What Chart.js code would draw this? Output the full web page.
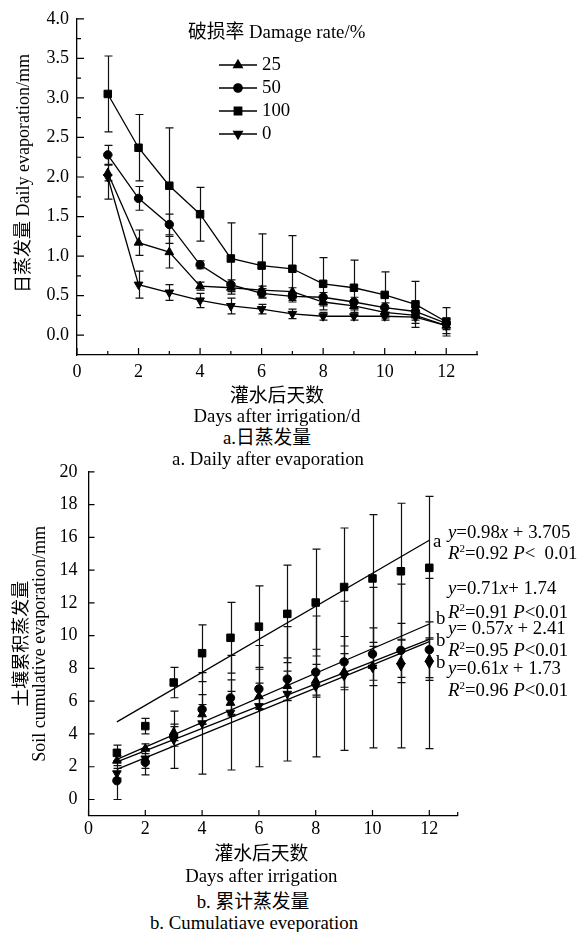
<!DOCTYPE html>
<html><head><meta charset="utf-8">
<script src="https://cdn.jsdelivr.net/npm/chart.js@4/dist/chart.umd.min.js"></script>
<style>
html,body{margin:0;padding:0;background:#fff;width:587px;height:932px;overflow:hidden;position:relative;}
canvas{position:absolute;left:0;}
#c1{top:0;}
#c2{top:450px;}
.t{position:absolute;font-family:'Liberation Serif','Noto Sans CJK SC',serif;font-size:18.8px;line-height:20px;color:#000;white-space:pre;}
.cap{text-align:center;width:400px;}
.t sup{font-size:11px;line-height:0;vertical-align:7px;}
</style></head><body>
<canvas id="c1" width="587" height="427"></canvas>
<canvas id="c2" width="587" height="438"></canvas>

<div class="t cap" style="left:67px;top:428px">a.日蒸发量</div>
<div class="t cap" style="left:68px;top:449px">a. Daily after evaporation</div>
<div class="t cap" style="left:53px;top:892px">b. 累计蒸发量</div>
<div class="t cap" style="left:54px;top:913px">b. Cumulatiave eveporation</div>

<div class="t" style="left:433px;top:531px">a</div>
<div class="t" style="left:448px;top:522px"><i>y</i>=0.98<i>x</i> + 3.705</div>
<div class="t" style="left:448px;top:543px"><i>R</i><sup>2</sup>=0.92 <i>P</i>&lt;  0.01</div>
<div class="t" style="left:448px;top:578px"><i>y</i>=0.71<i>x</i>+ 1.74</div>
<div class="t" style="left:448px;top:602px"><i>R</i><sup>2</sup>=0.91 <i>P</i>&lt;0.01</div>
<div class="t" style="left:436px;top:608px">b</div>
<div class="t" style="left:448px;top:618px"><i>y</i>= 0.57<i>x</i> + 2.41</div>
<div class="t" style="left:436px;top:630px">b</div>
<div class="t" style="left:448px;top:640px"><i>R</i><sup>2</sup>=0.95 <i>P</i>&lt;0.01</div>
<div class="t" style="left:436px;top:652px">b</div>
<div class="t" style="left:448px;top:658px"><i>y</i>=0.61<i>x</i> + 1.73</div>
<div class="t" style="left:448px;top:680px"><i>R</i><sup>2</sup>=0.96 <i>P</i>&lt;0.01</div>

<script>
const FONT = "'Liberation Serif','Noto Sans CJK SC',serif";

// ---------- data ----------
const days = [1, 2, 3, 4, 5, 6, 7, 8, 9, 10, 11, 12];
const seriesLabels = ['25', '50', '100', '0'];

// a. daily evaporation (mm)
const daily25  = [2.05, 1.17, 1.05, 0.62, 0.60, 0.57, 0.55, 0.42, 0.37, 0.29, 0.25, 0.12];
const daily50  = [2.28, 1.73, 1.40, 0.89, 0.64, 0.53, 0.49, 0.48, 0.42, 0.35, 0.30, 0.15];
const daily100 = [3.05, 2.37, 1.89, 1.53, 0.97, 0.88, 0.84, 0.65, 0.60, 0.51, 0.39, 0.17];
const daily0   = [2.00, 0.64, 0.54, 0.44, 0.37, 0.33, 0.27, 0.24, 0.24, 0.24, 0.23, 0.12];
const dailyErr25  = [0.10, 0.16, 0.20, 0.05, 0.05, 0.05, 0.05, 0.05, 0.05, 0.05, 0.06, 0.05];
const dailyErr50  = [0.12, 0.15, 0.13, 0.05, 0.06, 0.06, 0.05, 0.06, 0.06, 0.06, 0.06, 0.05];
const dailyErr100 = [0.48, 0.42, 0.73, 0.34, 0.45, 0.40, 0.42, 0.33, 0.35, 0.29, 0.29, 0.18];
const dailyErr0   = [0.28, 0.17, 0.10, 0.09, 0.10, 0.06, 0.06, 0.05, 0.05, 0.05, 0.08, 0.10];

// b. cumulative evaporation (mm)
const cum25  = [2.37, 3.10, 4.10, 5.20, 5.90, 6.30, 6.93, 7.25, 7.80, 8.15, 8.43, 8.57];
const cum50  = [1.15, 2.27, 3.85, 5.50, 6.20, 6.75, 7.35, 7.77, 8.40, 8.88, 9.10, 9.14];
const cum100 = [2.85, 4.48, 7.14, 8.93, 9.87, 10.55, 11.33, 12.02, 12.97, 13.49, 13.93, 14.14];
const cum0   = [1.60, 2.50, 3.65, 4.65, 5.30, 5.70, 6.45, 6.90, 7.55, 8.05, 8.15, 8.30];
const cumErr25  = [0.30, 0.30, 0.50, 0.60, 0.70, 0.80, 0.90, 1.00, 1.10, 1.20, 1.30, 1.30];
const cumErr50  = [1.15, 0.77, 0.60, 0.90, 1.10, 1.20, 1.30, 1.40, 1.55, 1.60, 1.65, 1.70];
const cumErr100 = [0.47, 0.47, 0.93, 1.73, 2.16, 2.49, 2.97, 3.26, 3.60, 3.90, 4.15, 4.36];
const cumErr0   = [0.30, 0.60, 1.75, 3.10, 3.50, 3.70, 4.10, 4.30, 4.55, 4.90, 5.00, 5.20];

// fitted lines (end points)
const fitX  = [1, 12];
const fitA  = [4.74, 15.82];
const fitB1 = [2.45, 10.71];
const fitB2 = [2.30, 9.77];
const fitB3 = [1.84, 9.63];

// ticks
const topXTicks  = [0, 2, 4, 6, 8, 10, 12];
const topXLabels = ['0', '2', '4', '6', '8', '10', '12'];
const topXMinor  = [1, 3, 5, 7, 9, 11, 13];
const topYTicks  = [0, 0.5, 1.0, 1.5, 2.0, 2.5, 3.0, 3.5, 4.0];
const topYLabels = ['0.0', '0.5', '1.0', '1.5', '2.0', '2.5', '3.0', '3.5', '4.0'];
const topYMinor  = [0.25, 0.75, 1.25, 1.75, 2.25, 2.75, 3.25, 3.75];
const botXTicks  = [0, 2, 4, 6, 8, 10, 12];
const botXLabels = ['0', '2', '4', '6', '8', '10', '12'];
const botXMinor  = [13];
const botYTicks  = [0, 2, 4, 6, 8, 10, 12, 14, 16, 18, 20];
const botYLabels = ['0', '2', '4', '6', '8', '10', '12', '14', '16', '18', '20'];

// ---------- helpers / plugins ----------
const pts = (xs, ys) => xs.map((x, i) => ({x: x, y: ys[i]}));

const errorBars = {
  id: 'errorBars',
  beforeDatasetsDraw(chart, args, o) {
    const ctx = chart.ctx, xs = chart.scales.x, ys = chart.scales.y;
    ctx.save();
    ctx.strokeStyle = o.color; ctx.lineWidth = o.width;
    o.errors.forEach((errs, di) => {
      if (!errs) return;
      chart.data.datasets[di].data.forEach((p, i) => {
        const e = errs[i];
        const px = Math.round(xs.getPixelForValue(p.x)) + 0.5;
        const y1 = ys.getPixelForValue(p.y + e), y2 = ys.getPixelForValue(p.y - e);
        ctx.beginPath();
        ctx.moveTo(px, y1); ctx.lineTo(px, y2);
        ctx.moveTo(px - o.cap, y1); ctx.lineTo(px + o.cap, y1);
        ctx.moveTo(px - o.cap, y2); ctx.lineTo(px + o.cap, y2);
        ctx.stroke();
      });
    });
    ctx.restore();
  }
};

const inwardTicks = {
  id: 'inwardTicks',
  afterDraw(chart, args, o) {
    const ctx = chart.ctx, xs = chart.scales.x, ys = chart.scales.y;
    const {left, bottom} = chart.chartArea;
    ctx.save();
    ctx.strokeStyle = '#000'; ctx.lineWidth = 1.2;
    ctx.beginPath();
    o.xMajor.forEach(v => { const p = xs.getPixelForValue(v); ctx.moveTo(p, bottom); ctx.lineTo(p, bottom - o.major); });
    o.xMinor.forEach(v => { const p = xs.getPixelForValue(v); ctx.moveTo(p, bottom); ctx.lineTo(p, bottom - o.minor); });
    o.yMajor.forEach(v => { const p = ys.getPixelForValue(v); ctx.moveTo(left, p); ctx.lineTo(left + o.major, p); });
    o.yMinor.forEach(v => { const p = ys.getPixelForValue(v); ctx.moveTo(left, p); ctx.lineTo(left + o.minor, p); });
    ctx.stroke();
    ctx.restore();
  }
};

const legendTop = {
  id: 'legendTop',
  afterDraw(chart, args, o) {
    if (!o.show) return;
    const ctx = chart.ctx;
    ctx.save();
    ctx.font = '18.8px ' + FONT; ctx.fillStyle = '#000';
    ctx.textBaseline = 'middle'; ctx.textAlign = 'left';
    ctx.fillText(o.title, o.x, o.y);
    chart.data.datasets.forEach((ds, i) => {
      const y = o.y0 + i * o.dy;
      ctx.strokeStyle = '#000'; ctx.lineWidth = 1.3;
      ctx.beginPath(); ctx.moveTo(o.lx0, y); ctx.lineTo(o.lx1, y); ctx.stroke();
      ctx.fillStyle = '#000';
      Chart.helpers.drawPoint(ctx, {pointStyle: ds.pointStyle, radius: ds.pointRadius, rotation: ds.pointRotation || 0, borderWidth: 1}, (o.lx0 + o.lx1) / 2, y);
      ctx.fillText(ds.label, o.tx, y);
    });
    ctx.restore();
  }
};

const styles = [
  {pointStyle: 'triangle', pointRadius: 5, pointRotation: 0},
  {pointStyle: 'circle', pointRadius: 4.2, pointRotation: 0},
  {pointStyle: 'rect', pointRadius: 5.3, pointRotation: 0},
  {pointStyle: 'triangle', pointRadius: 5, pointRotation: 180}
];

function markerSet(series, showLine) {
  return series.map((ys, i) => Object.assign({
    label: seriesLabels[i], data: pts(days, ys), showLine: showLine,
    borderColor: '#000', backgroundColor: '#000', borderWidth: 1.3,
    pointBackgroundColor: '#000', pointBorderColor: '#000', pointBorderWidth: 1,
    tension: 0
  }, styles[i]));
}

function fitSet(ys) {
  return {label: '', data: pts(fitX, ys), showLine: true, borderColor: '#000', borderWidth: 1.3, pointRadius: 0, tension: 0};
}

const tickFont = {family: FONT, size: 18};
Chart.defaults.font.family = FONT;
Chart.defaults.color = '#000';

// ---------- chart a ----------
new Chart(document.getElementById('c1'), {
  type: 'line',
  data: {datasets: markerSet([daily25, daily50, daily100, daily0], true)},
  options: {
    responsive: false, animation: false, clip: false,
    layout: {padding: {top: 15, right: 110, left: 0, bottom: 0}},
    plugins: {
      legend: {display: false}, tooltip: {enabled: false},
      errorBars: {errors: [dailyErr25, dailyErr50, dailyErr100, dailyErr0], color: '#111', width: 1.2, cap: 4},
      inwardTicks: {xMajor: topXTicks, xMinor: topXMinor, yMajor: topYTicks, yMinor: topYMinor, major: 7, minor: 4},
      legendTop: {show: true, title: '破损率 Damage rate/%', x: 188, y: 33, y0: 65, dy: 23, lx0: 219, lx1: 257, tx: 262}
    },
    scales: {
      x: {
        type: 'linear', min: 0, max: 13,
        grid: {display: false, drawTicks: false},
        border: {display: true, color: '#000', width: 1.3},
        ticks: {font: tickFont, color: '#000', padding: 6, maxRotation: 0, callback: (v, i) => topXLabels[i]},
        afterBuildTicks: s => { s.ticks = topXTicks.map(v => ({value: v})); },
        afterFit: s => { s.height = 72; },
        title: {display: true, text: ['灌水后天数', 'Days after irrigation/d'], font: {family: FONT, size: 18.8, lineHeight: '20px'}, color: '#000', padding: {top: 0, bottom: 0}}
      },
      y: {
        type: 'linear', min: -0.25, max: 4.0,
        grid: {display: false, drawTicks: false},
        border: {display: true, color: '#000', width: 1.3},
        ticks: {font: tickFont, color: '#000', padding: 8, callback: (v, i) => topYLabels[i]},
        afterBuildTicks: s => { s.ticks = topYTicks.map(v => ({value: v})); },
        afterFit: s => { s.width = 77; },
        title: {display: true, text: '      日蒸发量 Daily evaporation/mm', font: {family: FONT, size: 18, lineHeight: '20px'}, color: '#000', padding: {top: 14, bottom: 0}}
      }
    }
  },
  plugins: [errorBars, inwardTicks, legendTop]
});

// ---------- chart b ----------
new Chart(document.getElementById('c2'), {
  type: 'line',
  data: {datasets: markerSet([cum25, cum50, cum100, cum0], false).concat([fitSet(fitA), fitSet(fitB1), fitSet(fitB2), fitSet(fitB3)])},
  options: {
    responsive: false, animation: false,
    layout: {padding: {top: 21.7, right: 129.3, left: 0, bottom: 0}},
    plugins: {
      legend: {display: false}, tooltip: {enabled: false},
      errorBars: {errors: [cumErr25, cumErr50, cumErr100, cumErr0], color: '#111', width: 1.2, cap: 4},
      inwardTicks: {xMajor: botXTicks, xMinor: botXMinor, yMajor: botYTicks, yMinor: [], major: 6, minor: 4},
      legendTop: {show: false}
    },
    scales: {
      x: {
        type: 'linear', min: 0, max: 13,
        grid: {display: false, drawTicks: false},
        border: {display: true, color: '#000', width: 1.3},
        ticks: {font: tickFont, color: '#000', padding: 3, maxRotation: 0, callback: (v, i) => botXLabels[i]},
        afterBuildTicks: s => { s.ticks = botXTicks.map(v => ({value: v})); },
        afterFit: s => { s.height = 72.1; },
        title: {display: true, text: ['灌水后天数     ', 'Days after irrigation     '], font: {family: FONT, size: 18.8, lineHeight: '22px'}, color: '#000', padding: {top: 0, bottom: 0}}
      },
      y: {
        type: 'linear', min: -1, max: 20,
        grid: {display: false, drawTicks: false},
        border: {display: true, color: '#000', width: 1.3},
        ticks: {font: tickFont, color: '#000', padding: 11, callback: (v, i) => botYLabels[i]},
        afterBuildTicks: s => { s.ticks = botYTicks.map(v => ({value: v})); },
        afterFit: s => { s.width = 88.5; },
        title: {display: true, text: ['土壤累积蒸发量', 'Soil cumulative evaporation/mm'], font: {family: FONT, size: 18, lineHeight: '18px'}, color: '#000', padding: {top: 13, bottom: 0}}
      }
    }
  },
  plugins: [errorBars, inwardTicks, legendTop]
});
</script>
</body></html>
